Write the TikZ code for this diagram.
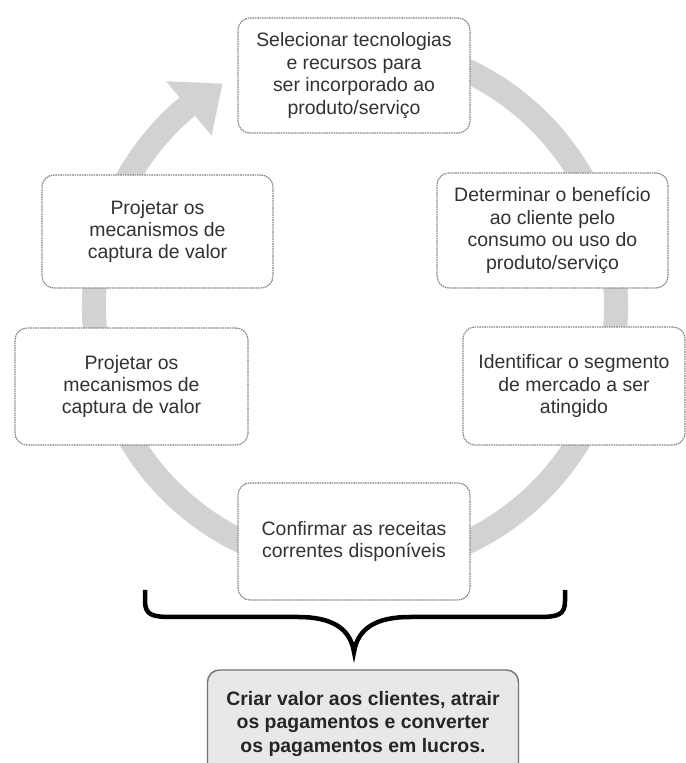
\documentclass[tikz,border=0pt]{standalone}
\usepackage{fontspec}
\setmainfont{Liberation Sans}
\usetikzlibrary{calc}

\definecolor{ringgray}{RGB}{210,210,210}
\definecolor{boxline}{RGB}{135,135,135}
\definecolor{txtgray}{RGB}{50,50,50}
\definecolor{goalfill}{RGB}{232,232,232}
\definecolor{goalline}{RGB}{115,115,115}

\tikzset{
  stepbox/.style={
    draw=boxline, line width=1.2bp, dash pattern=on 1.6bp off 0.8bp,
    fill=white, rounded corners=12bp, inner sep=0pt,
    align=center, text=txtgray,
    font=\fontsize{19.5}{22.5}\selectfont
  },
  goalbox/.style={
    draw=goalline, line width=1.4bp, fill=goalfill,
    rounded corners=12bp, inner sep=0pt, align=center,
    text=black!85, font=\bfseries\fontsize{19.5}{23.5}\selectfont
  },
  ring/.style={draw=ringgray, line width=24bp},
  bracket/.style={draw=black, line width=4.5bp, line join=miter}
}

\begin{document}
\begin{tikzpicture}[x=1bp,y=1bp]
  \clip (0,0) rectangle (686,763);
  \fill[white] (0,0) rectangle (686,763);

  % cycle ring, running clockwise and ending in an arrowhead
  \coordinate (c) at (355,456.5);
  \draw[ring] ($(c)+(70:261bp)$) arc[start angle=70, end angle=-230, radius=261bp];
  \coordinate (tipbase) at ($(c)+(130:261bp)$);
  \coordinate (wingout) at ($(c)+(130:294bp)$);
  \coordinate (wingin)  at ($(c)+(130:223bp)$);
  \coordinate (tip)     at ($(tipbase)+(33:42bp)$);
  \fill[ringgray] (wingout) -- (tip) -- (wingin) -- cycle;

  % steps of the cycle
  \node[stepbox, minimum width=232bp, minimum height=115bp] (sel) at (354,687.5)
    {Selecionar tecnologias\\e recursos para\\ser incorporado ao\\produto/serviço};
  \node[stepbox, minimum width=231bp, minimum height=115bp] (det) at (552.5,532.5)
    {Determinar o benefício\\ao cliente pelo\\consumo ou uso do\\produto/serviço};
  \node[stepbox, minimum width=222bp, minimum height=118bp] (seg) at (574,377)
    {Identificar o segmento\\de mercado a ser\\atingido};
  \node[stepbox, minimum width=232bp, minimum height=117bp] (rec) at (354,221.5)
    {Confirmar as receitas\\correntes disponíveis};
  \node[stepbox, minimum width=233bp, minimum height=117bp] (capb) at (131.5,376.5)
    {Projetar os\\mecanismos de\\captura de valor};
  \node[stepbox, minimum width=231bp, minimum height=113bp] (capa) at (157.5,531.5)
    {Projetar os\\mecanismos de\\captura de valor};

  % brace gathering the cycle into the goal
  \coordinate (bl) at (145,173);
  \coordinate (br) at (565,173);
  \coordinate (bt) at (354,111);
  \draw[bracket] (bl) -- (145,162)
    .. controls (145,148) and (152,146) .. (172,146)
    -- (298,146)
    .. controls (330,146) and (350,136) .. (bt)
    .. controls (358,136) and (378,146) .. (410,146)
    -- (538,146)
    .. controls (558,146) and (565,148) .. (565,162)
    -- (br);

  % goal
  \node[goalbox, minimum width=311bp, minimum height=108bp] (goal) at (363,39)
    {Criar valor aos clientes, atrair\\os pagamentos e converter\\os pagamentos em lucros.};
\end{tikzpicture}
\end{document}
